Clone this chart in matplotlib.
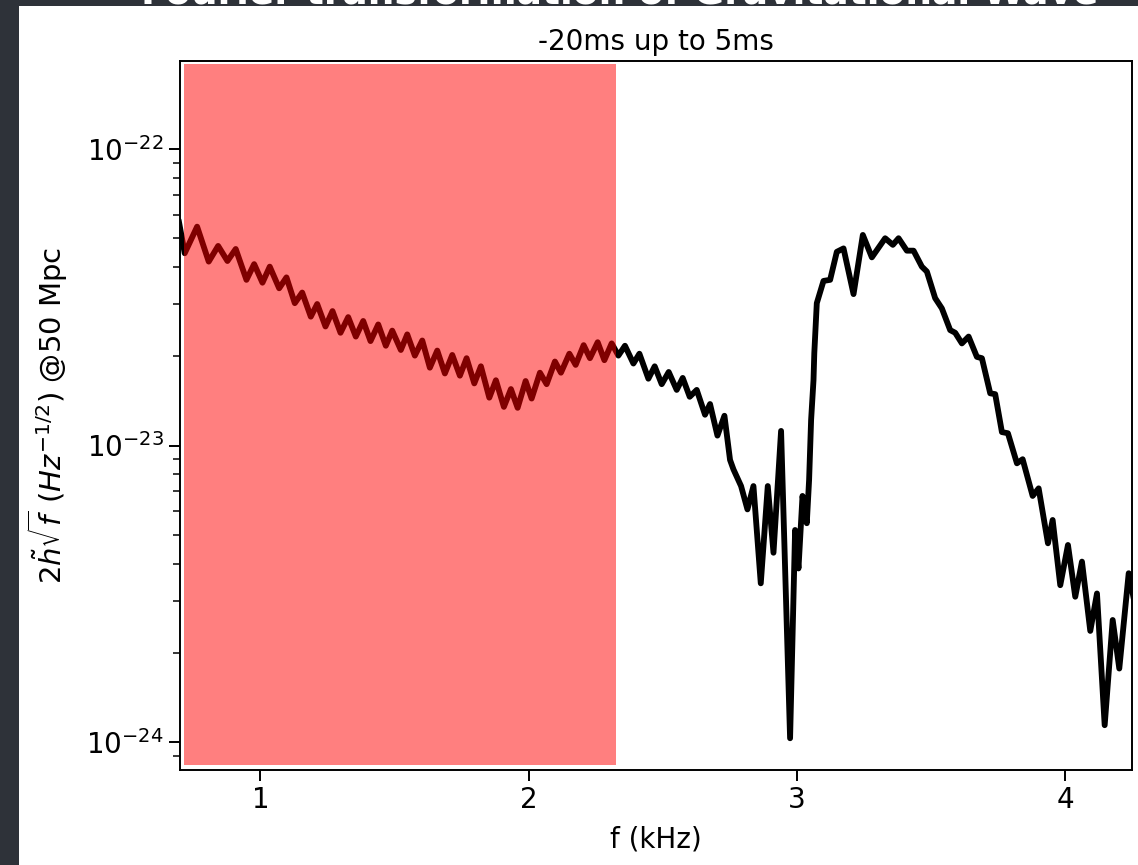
import matplotlib
matplotlib.use("Agg")
import matplotlib.pyplot as plt
from matplotlib.patches import Rectangle

# Frequency (kHz)
f_khz = [0.695, 0.7175, 0.7638, 0.8071, 0.8422, 0.8769, 0.9078, 0.9478, 0.9765, 1.0075,
         1.0347, 1.0698, 1.0970, 1.1280, 1.1556, 1.1877, 1.2116, 1.2425, 1.2687, 1.2985,
         1.3272, 1.3556, 1.3832, 1.4104, 1.4392, 1.4675, 1.4914, 1.5235, 1.5474, 1.5757,
         1.6034, 1.6317, 1.6593, 1.6877, 1.7153, 1.7437, 1.7687, 1.7974, 1.8220, 1.8534,
         1.8780, 1.9078, 1.9340, 1.9590, 1.9888, 2.0112, 2.0422, 2.0672, 2.0981, 2.1205,
         2.1519, 2.1754, 2.2052, 2.2287, 2.2575, 2.2825, 2.3097, 2.3347, 2.3593, 2.3907,
         2.4131, 2.4466, 2.4701, 2.4963, 2.5224, 2.5522, 2.5746, 2.6007, 2.6269, 2.6578,
         2.6765, 2.7041, 2.7302, 2.7511, 2.7638, 2.7922, 2.8160, 2.8384, 2.8657, 2.8918,
         2.9131, 2.9414, 2.9750, 2.9937, 3.0063, 3.0213, 3.0373, 3.0459, 3.0534, 3.0623,
         3.0653, 3.0746, 3.0996, 3.1243, 3.1493, 3.1743, 3.2116, 3.2463, 3.2799, 3.3295,
         3.3582, 3.3795, 3.4104, 3.4354, 3.4664, 3.4851, 3.5160, 3.5410, 3.5720, 3.5907,
         3.6157, 3.6407, 3.6716, 3.6903, 3.7213, 3.7399, 3.7649, 3.7873, 3.8209, 3.8422,
         3.8795, 3.9019, 3.9366, 3.9541, 3.9825, 4.0112, 4.0384, 4.0634, 4.0944, 4.1194,
         4.1481, 4.1780, 4.2026, 4.2377, 4.2687]

# 2*h~*sqrt(f) in units of 1e-23 Hz^-1/2
amp_e23 = [5.75, 4.45, 5.47, 4.17, 4.71, 4.19, 4.60, 3.62, 4.09, 3.54,
           4.01, 3.39, 3.69, 3.02, 3.28, 2.72, 3.00, 2.52, 2.84, 2.40,
           2.71, 2.33, 2.63, 2.25, 2.56, 2.17, 2.44, 2.10, 2.37, 2.01,
           2.26, 1.83, 2.09, 1.75, 2.02, 1.72, 1.97, 1.62, 1.85, 1.45,
           1.66, 1.35, 1.55, 1.34, 1.65, 1.44, 1.76, 1.61, 1.92, 1.76,
           2.04, 1.87, 2.18, 1.97, 2.23, 1.94, 2.21, 2.01, 2.17, 1.89,
           2.04, 1.68, 1.85, 1.61, 1.77, 1.54, 1.69, 1.46, 1.54, 1.27,
           1.38, 1.08, 1.26, 0.894, 0.831, 0.730, 0.609, 0.730, 0.343, 0.730,
           0.435, 1.12, 0.103, 0.519, 0.385, 0.676, 0.547, 0.765, 1.22, 1.66,
           2.05, 3.02, 3.59, 3.62, 4.50, 4.62, 3.24, 5.13, 4.31, 5.00,
           4.75, 5.00, 4.54, 4.54, 4.01, 3.86, 3.14, 2.90, 2.45, 2.40,
           2.21, 2.33, 1.99, 1.97, 1.50, 1.49, 1.11, 1.10, 0.871, 0.899,
           0.676, 0.717, 0.468, 0.561, 0.338, 0.462, 0.309, 0.406, 0.237, 0.317,
           0.114, 0.258, 0.177, 0.371, 0.268]

band_start, band_end = 0.7164, 2.3246
xticks = [1, 2, 3, 4]

plt.rcParams['font.size'] = 20

W, H = 1138, 865
fig = plt.figure(figsize=(W / 100, H / 100), dpi=100, facecolor='white')

# slide background strips
dark = '#2e3239'
fig.add_artist(Rectangle((0, 0), 19 / W, 1, transform=fig.transFigure,
                         facecolor=dark, edgecolor='none', zorder=0))
fig.add_artist(Rectangle((0, 1 - 6 / H), 1, 6 / H, transform=fig.transFigure,
                         facecolor=dark, edgecolor='none', zorder=0))
fig.text(0.545, 1 - 4 / H, 'Fourier transformation of Gravitational Wave',
         color='white', fontsize=27, fontweight='bold', ha='center', va='baseline')

ax = fig.add_axes([180 / W, 1 - 770 / H, (1132 - 180) / W, (770 - 61) / H])
ax.plot(f_khz, [a * 1e-23 for a in amp_e23], color='black', lw=4.2,
        solid_joinstyle='round', solid_capstyle='round', zorder=2)
ax.axvspan(band_start, band_end, ymin=0.007, ymax=0.9958, facecolor='red',
           alpha=0.5, edgecolor='none', zorder=3)
ax.set_yscale('log')
ax.set_xlim(0.70, 4.25)
ax.set_ylim(8.05e-25, 1.98e-22)
ax.set_xticks(xticks)
ax.set_xticklabels([str(t) for t in xticks])
ax.set_xlabel('f (kHz)', fontsize=20, labelpad=8)
ax.set_ylabel(r'$2\tilde{h}\sqrt{f}\ (Hz^{-1/2})$ @50 Mpc', fontsize=21, labelpad=12)
ax.set_title('-20ms up to 5ms', fontsize=20, pad=8)
for s in ax.spines.values():
    s.set_linewidth(1.4)
ax.tick_params(which='major', length=8, width=1.4, labelsize=20)
ax.tick_params(which='minor', length=4.7, width=1.1)

fig.savefig('out.png', dpi=100, facecolor=fig.get_facecolor())
